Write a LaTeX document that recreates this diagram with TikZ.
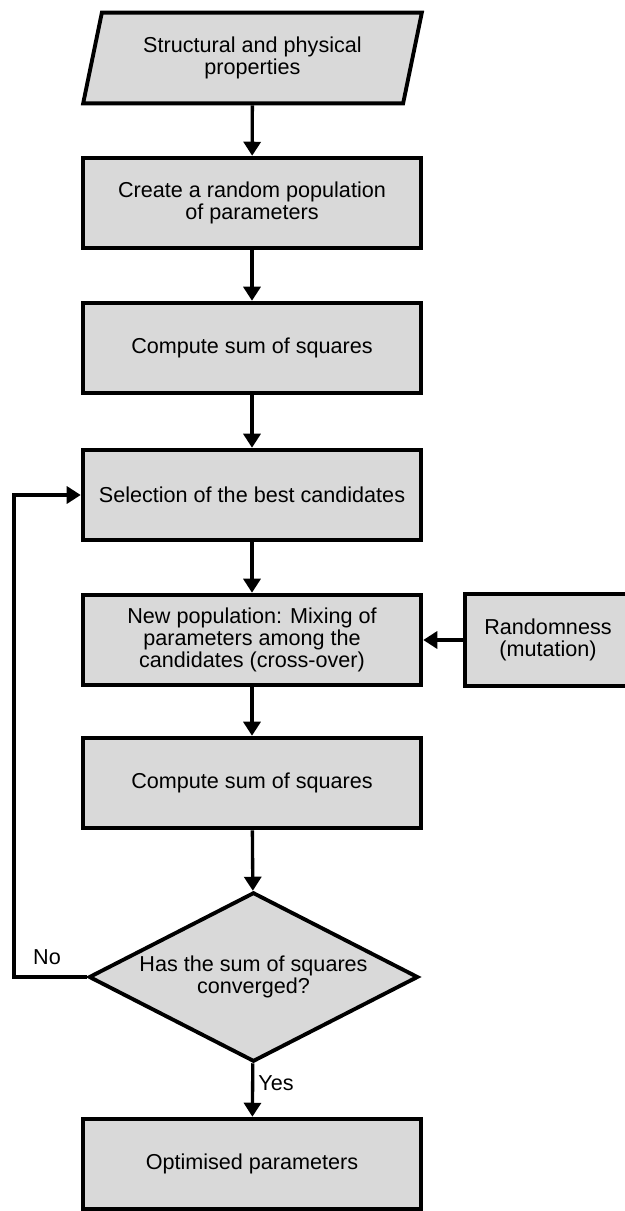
\documentclass[tikz,border=0pt]{standalone}
\usepackage{fontspec}
\setmainfont{Liberation Sans}
\usetikzlibrary{shapes.geometric,arrows.meta}
\definecolor{boxgray}{RGB}{217,217,217}
\begin{document}
\begin{tikzpicture}[x=0.75pt, y=-0.75pt,
  font=\fontsize{16.2pt}{16.4pt}\selectfont,
  box/.style={draw, fill=boxgray, line width=2.9pt, align=center, inner sep=0pt,
    minimum width=254pt, minimum height=68pt},
  inbox/.style={box, trapezium, trapezium left angle=66, trapezium right angle=114,
    trapezium stretches body, minimum width=254pt},
  test/.style={box, diamond, aspect=1.94, minimum width=247pt, minimum height=127pt},
  flow/.style={line width=2.5pt, -{Triangle[length=10.5pt, width=12.75pt]}}]
%
\useasboundingbox (0,0) rectangle (625,1211);
%
\node[inbox] (inp) at (252.5,58) {Structural and physical\\properties};
\node[box] (pop) at (252,203) {Create a random population\\of parameters};
\node[box] (ssq1) at (252,348) {Compute sum of squares};
\node[box] (sel) at (252,495) {Selection of the best candidates};
\node[box] (mix) at (252,640) {New population: Mixing of\\parameters among the\\candidates (cross-over)};
\node[box, minimum width=125pt, minimum height=69pt] (mut) at (548,640) {Randomness\\(mutation)};
\node[box] (ssq2) at (252,783) {Compute sum of squares};
\node[test] (conv) at (253.5,977) {Has the sum of squares\\converged?};
\node[box] (opt) at (252,1164) {Optimised parameters};
%
\node (no) at (47,957) {No};
\node (yes) at (276,1083) {Yes};
%
\draw[flow] (inp) -- (pop);
\draw[flow] (pop) -- (ssq1);
\draw[flow] (ssq1) -- (sel);
\draw[flow] (sel) -- (mix);
\draw[flow] (mut) -- (mix);
\draw[flow] (mix) -- (ssq2);
\draw[flow] (ssq2) -- (conv);
\draw[flow] (conv) -- (opt);
\draw[flow] (conv.west) -- ++(-73,0) |- (sel.west);
%
\end{tikzpicture}
\end{document}
